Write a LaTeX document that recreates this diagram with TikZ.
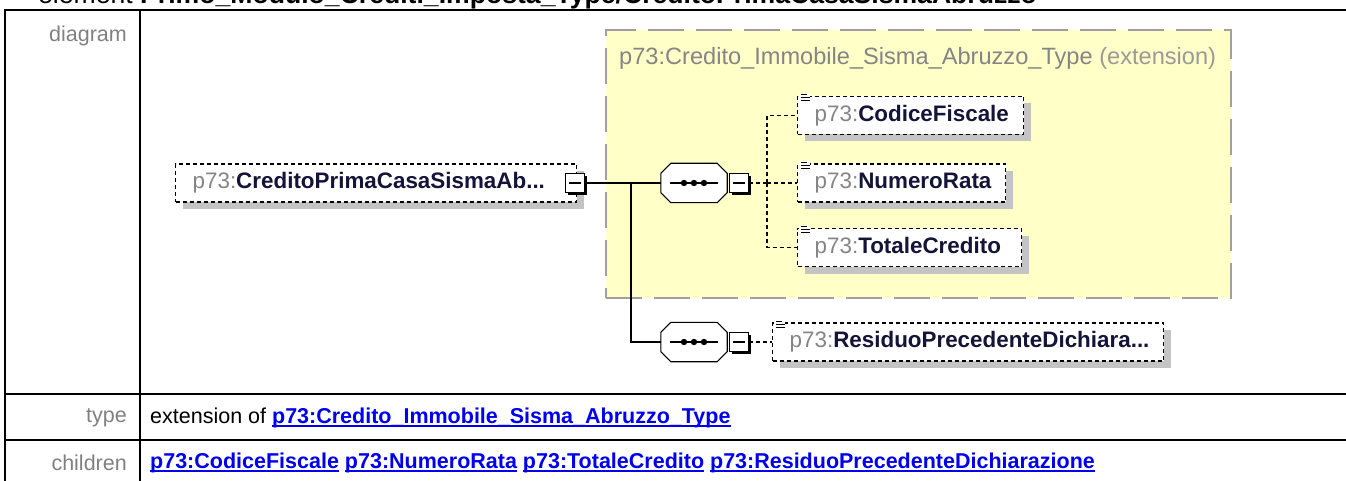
\documentclass[tikz,border=0pt]{standalone}
\usepackage{fontspec}
\setmainfont{Liberation Sans}
\usetikzlibrary{shadows}
\definecolor{pfx}{HTML}{858585}
\definecolor{nm}{HTML}{141438}
\definecolor{yel}{HTML}{FFFFC8}
\definecolor{yelb}{HTML}{A0A0A0}
\definecolor{shd}{HTML}{C4C4C4}
\definecolor{lnk}{HTML}{0000EE}
\definecolor{lbl}{HTML}{808080}
\definecolor{lbl2}{HTML}{9A9A9A}
\newcommand\pq[1]{{\color{pfx}p73:}{\color{nm}\bfseries #1}}
\newcommand\lk[1]{\setbox0=\hbox{\bfseries #1}\rlap{\color{lnk}\rule[-3pt]{\wd0}{1.6pt}}{\color{lnk}\box0}}
\newcommand\octpath[1]{([xshift=10pt]#1.north west) -- ([xshift=-10pt]#1.north east) -- ([yshift=-10pt]#1.north east) -- ([yshift=10pt]#1.south east) -- ([xshift=-10pt]#1.south east) -- ([xshift=10pt]#1.south west) -- ([yshift=10pt]#1.south west) -- ([yshift=-10pt]#1.north west) -- cycle}
\begin{document}
\begin{tikzpicture}[x=1pt,y=-1pt,
  every node/.style={font=\fontsize{21.5}{25}\selectfont},
  elem/.style={draw=black, line width=1.3pt, dash pattern=on 4pt off 3pt, fill=white,
    minimum height=38pt, inner xsep=17pt, inner ysep=0pt, anchor=west, align=left,
    font=\fontsize{22.4}{26}\selectfont,
    drop shadow={shadow xshift=7pt, shadow yshift=-7pt, fill=shd, opacity=1}},
  seqbox/.style={rectangle, draw=none, minimum width=66pt, minimum height=39pt, inner sep=0pt},
  minusbox/.style={draw=black, line width=1.3pt, fill=white, minimum size=19pt, inner sep=0pt,
    drop shadow={shadow xshift=2.5pt, shadow yshift=-2.5pt, fill=black, opacity=1}},
  extbox/.style={draw=yelb, fill=yel, line width=2pt, dash pattern=on 36pt off 12pt,
    minimum width=625pt, minimum height=268pt, inner sep=0pt},
  conn/.style={line width=1.2pt, draw=black},
  dconn/.style={line width=1.2pt, draw=black, dash pattern=on 4pt off 3pt},
  tline/.style={line width=2pt, draw=black}
]
\useasboundingbox (0,0) rectangle (1346,481);
\clip (0,0) rectangle (1346,481);

% title (mostly cut off at top)
\node[anchor=base west, inner sep=0pt, font=\fontsize{26.6}{30}\selectfont] (title) at (38,4)
  {element \textbf{Primo\_Modulo\_Crediti\_Imposta\_Type/CreditoPrimaCasaSismaAbruzzo}};

% table
\draw[tline] (5,495) -- (5,10) -- (1350,10);
\draw[tline] (140,10) -- (140,495);
\draw[tline] (5,394) -- (1350,394);
\draw[tline] (5,440) -- (1350,440);

\node[anchor=east, text=lbl, inner sep=0pt] (ldiag) at (127,36) {diagram};
\node[anchor=east, text=lbl, inner sep=0pt] (ltype) at (127,418) {type};
\node[anchor=east, text=lbl, inner sep=0pt] (lchild) at (127,463) {children};

\node[anchor=west, inner sep=0pt] (vtype) at (150,418)
  {extension of \lk{p73:Credito\_Immobile\_Sisma\_Abruzzo\_Type}};
\node[anchor=west, inner sep=0pt] (vchild) at (150,463)
  {\lk{p73:CodiceFiscale} \lk{p73:NumeroRata} \lk{p73:TotaleCredito} \lk{p73:ResiduoPrecedenteDichiarazione}};

% extension box
\node[extbox] (ext) at (918.5,164) {};
\node[anchor=west, inner sep=0pt, font=\fontsize{23.6}{27}\selectfont] (extt) at (619,58)
  {{\color{pfx}p73:Credito\_Immobile\_Sisma\_Abruzzo\_Type} {\color{lbl2}(extension)}};

% main element
\node[elem, minimum width=401pt, text width=367pt, inner xsep=15pt] (main) at (175,183) {\pq{CreditoPrimaCasaSismaAb...}};
\node[minusbox] (m0) at (575,183) {};

% sequences (octagons)
\node[seqbox] (s1) at (694,183) {};
\node[seqbox] (s2) at (694,342) {};
\foreach \s in {s1,s2} {
  \fill[shd, shift={(7pt,-7pt)}] \octpath{\s};
  \filldraw[fill=white, draw=black, line width=1.1pt] \octpath{\s};
  \draw[line width=1.4pt] ([xshift=-24pt]\s.center) -- ([xshift=24pt]\s.center);
  \foreach \d in {-10,0,10} \fill ([xshift=\d pt]\s.center) circle (3.2pt);
}
\node[minusbox] (s1m) at (739,183) {};
\node[minusbox] (s2m) at (739,342) {};

% children
\node[elem, minimum width=226pt, text width=192pt] (cf) at (797,115.5) {\pq{CodiceFiscale}};
\node[elem, minimum width=208pt, text width=174pt] (nr) at (797,183) {\pq{NumeroRata}};
\node[elem, minimum width=224pt, text width=190pt] (tc) at (797,247.5) {\pq{TotaleCredito}};
\node[elem, minimum width=391pt, text width=357pt] (rd) at (772,342) {\pq{ResiduoPrecedenteDichiara...}};

% minus signs
\foreach \m in {m0,s1m,s2m}
  \draw[line width=1.3pt] ([xshift=4pt]\m.west) -- ([xshift=-4pt]\m.east);

% simple-content icons
\foreach \n in {cf,nr,tc,rd} {
  \fill[white] ([shift={(2pt,2pt)}]\n.north west) rectangle ([shift={(13pt,-7pt)}]\n.north west);
  \draw[line width=1pt] ([shift={(4pt,1pt)}]\n.north west) -- ++(6pt,0pt);
  \draw[line width=1pt] ([shift={(4pt,-2pt)}]\n.north west) -- ++(9pt,0pt);
  \draw[line width=1pt] ([shift={(4pt,-5pt)}]\n.north west) -- ++(9pt,0pt);
}

% connectors
\coordinate (trunk) at (631,183);
\coordinate (bus) at (767,183);
\draw[conn] (m0.east) -- (s1.west);
\draw[conn] (trunk) |- (s2.west);
\draw[dconn] (s1m.east) -- (bus);
\draw[dconn] (bus) |- (cf.west);
\draw[dconn] (bus) |- (tc.west);
\draw[dconn] (bus) -- (nr.west);
\draw[dconn] (s2m.east) -- (rd.west);
\end{tikzpicture}
\end{document}
